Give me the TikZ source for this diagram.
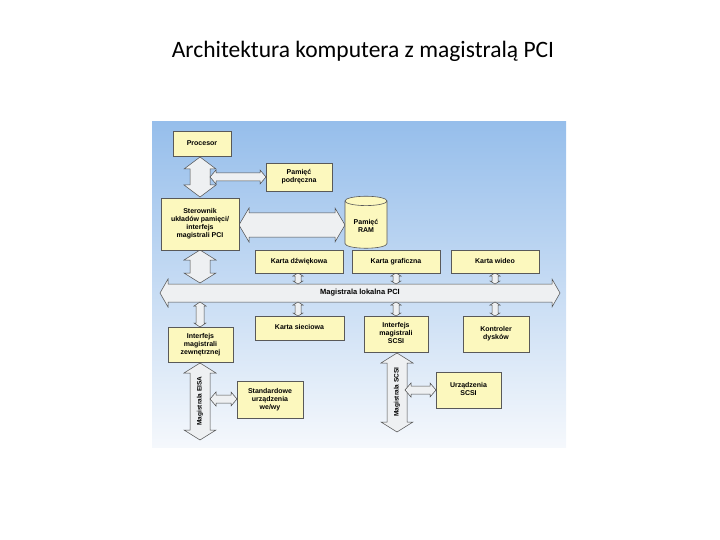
\documentclass[tikz,border=0pt]{standalone}
\usepackage{fontspec}
\setmainfont{Liberation Sans}
\newfontfamily\titlefont{Carlito}
\usetikzlibrary{shapes.geometric}
\definecolor{boxy}{RGB}{252,248,190}
\definecolor{arrf}{RGB}{238,240,242}
\definecolor{bgtop}{RGB}{150,190,235}
\definecolor{bgbot}{RGB}{245,248,252}
\newcommand\vdarr[6]{\draw[arr] ({#1-#4},{#2+#6}) -- ({#1-#5},{#2+#6}) -- (#1,#2) -- ({#1+#5},{#2+#6}) -- ({#1+#4},{#2+#6}) -- ({#1+#4},{#3-#6}) -- ({#1+#5},{#3-#6}) -- (#1,#3) -- ({#1-#5},{#3-#6}) -- ({#1-#4},{#3-#6}) -- cycle;}
\newcommand\hdarr[6]{\draw[arr] ({#2+#6},{#1-#4}) -- ({#2+#6},{#1-#5}) -- (#2,#1) -- ({#2+#6},{#1+#5}) -- ({#2+#6},{#1+#4}) -- ({#3-#6},{#1+#4}) -- ({#3-#6},{#1+#5}) -- (#3,#1) -- ({#3-#6},{#1-#5}) -- ({#3-#6},{#1-#4}) -- cycle;}
\begin{document}
\begin{tikzpicture}[x=1pt,y=-1pt,
  box/.style={draw=gray!70!black,fill=boxy,line width=0.6pt,align=center,font=\bfseries\fontsize{7}{8}\selectfont,inner sep=1pt,text depth=0.3ex},
  arr/.style={draw=gray!60!black,fill=arrf,line width=0.5pt}]
\useasboundingbox (0,0) rectangle (720,540);
\node[font=\titlefont\fontsize{23.5}{26}\selectfont] (title) at (363,51) {Architektura komputera z magistralą PCI};
\shade[top color=bgtop,bottom color=bgbot] (152,122) rectangle (566,447);
% arrows
\vdarr{200}{157}{197}{10}{16}{12}
\hdarr{177}{210}{266}{4}{7}{6}
\hdarr{225}{239}{345}{12}{17}{10}
\vdarr{200}{250}{283}{10}{16}{10}
\hdarr{293}{160}{560}{9}{14}{8}
\foreach \xx in {298,396,495}{\vdarr{\xx}{273}{284}{3}{5}{3}\vdarr{\xx}{302}{316}{3}{5}{3}}
\vdarr{200}{302}{327}{4}{6}{4}
\vdarr{200}{363}{440}{10}{16}{10}
\vdarr{397}{353}{432}{10}{16}{10}
\hdarr{399}{210}{237}{4}{7}{6}
\hdarr{390}{405}{436}{4}{7}{6}
\node[rotate=90,font=\bfseries\fontsize{6.5}{7}\selectfont] (eisa) at (200,401) {Magistrala EISA};
\node[rotate=90,font=\bfseries\fontsize{6.5}{7}\selectfont] (scsibus) at (397,392) {Magistrala SCSI};
\node[font=\bfseries\fontsize{7.5}{8}\selectfont] (pci) at (360,293) {Magistrala lokalna PCI};
% boxes
\node[box,minimum width=58,minimum height=25] (cpu) at (202,143.5) {Procesor};
\node[box,minimum width=66,minimum height=28] (cache) at (299,177) {Pamięć\\podręczna};
\node[box,minimum width=78,minimum height=52] (ctrl) at (200,224) {Sterownik\\układów pamięci/\\interfejs\\magistrali PCI};
\node[draw=gray!70!black,fill=boxy,cylinder,shape border rotate=90,aspect=0.3,minimum width=42,minimum height=52,align=center,font=\bfseries\fontsize{7}{8}\selectfont,line width=0.6pt] (ram) at (366,226) {Pamięć\\RAM};
\node[box,minimum width=88,minimum height=23] (snd) at (299,261.5) {Karta dźwiękowa};
\node[box,minimum width=88,minimum height=23] (gfx) at (396,261.5) {Karta graficzna};
\node[box,minimum width=88,minimum height=23] (vid) at (495,261.5) {Karta wideo};
\node[box,minimum width=89,minimum height=24] (net) at (299.5,328) {Karta sieciowa};
\node[box,minimum width=64,minimum height=36] (scsi) at (396,334) {Interfejs\\magistrali\\SCSI};
\node[box,minimum width=66,minimum height=36] (disk) at (496,334) {Kontroler\\dysków};
\node[box,minimum width=65,minimum height=35] (ext) at (200.5,344.5) {Interfejs\\magistrali\\zewnętrznej};
\node[box,minimum width=66,minimum height=37] (io) at (270,399.5) {Standardowe\\urządzenia\\we/wy};
\node[box,minimum width=65,minimum height=36] (sdev) at (468.5,390) {Urządzenia\\SCSI};
\end{tikzpicture}
\end{document}
